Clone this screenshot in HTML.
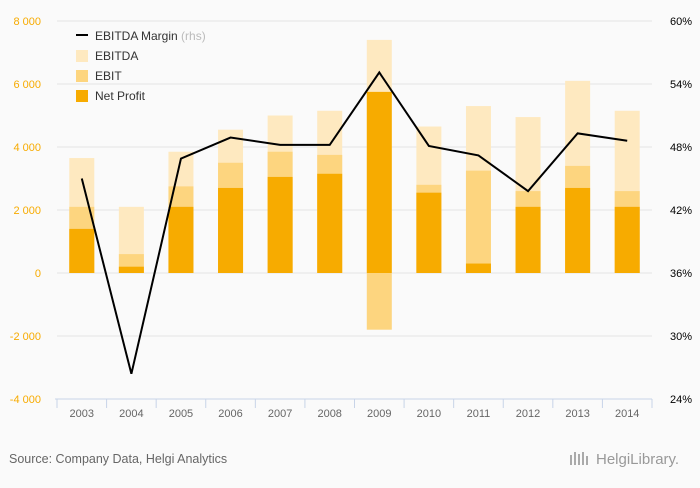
<!DOCTYPE html>
<html><head><meta charset="utf-8"><style>
body{margin:0;background:#fafafa;font-family:"Liberation Sans",sans-serif;}
svg text{font-family:"Liberation Sans",sans-serif;}
</style></head><body>
<svg id="c" width="700" height="483" xmlns="http://www.w3.org/2000/svg">
<rect width="700" height="483" fill="#fafafa"/>
<g id="grid"></g><g id="bars"></g><g id="line"></g><g id="axes"></g>
<g>
<line x1="76" y1="35" x2="88" y2="35" stroke="#000" stroke-width="2"/>
<text x="95" y="40" font-size="12" fill="#333">EBITDA Margin <tspan fill="#bbb">(rhs)</tspan></text>
<rect x="76" y="50" width="12" height="12" fill="#fee9c0"/>
<text x="95" y="60" font-size="12" fill="#333">EBITDA</text>
<rect x="76" y="70" width="12" height="12" fill="#fdd57f"/>
<text x="95" y="80" font-size="12" fill="#333">EBIT</text>
<rect x="76" y="90" width="12" height="12" fill="#f7ab00"/>
<text x="95" y="100" font-size="12" fill="#333">Net Profit</text>
</g>
<text x="9" y="463" font-size="12.5" fill="#666">Source: Company Data, Helgi Analytics</text>
<text x="596" y="464" font-size="15" fill="#999">HelgiLibrary.</text>
<g fill="#aaa"><rect x="570" y="455" width="2" height="10"/><rect x="574" y="452" width="2" height="13"/><rect x="578" y="454" width="2" height="11"/><rect x="582" y="452" width="2" height="13"/><rect x="586" y="456" width="2" height="9"/></g>
</svg>
<script>
const years=["2003","2004","2005","2006","2007","2008","2009","2010","2011","2012","2013","2014"];
const ebitda=[3650,2100,3850,4550,5000,5150,7400,4650,5300,4950,6100,5150];
const ebit=[2100,600,2750,3500,3850,3750,-1800,2800,3250,2600,3400,2600];
const netProfit=[1400,200,2100,2700,3050,3150,5750,2550,300,2100,2700,2100];
const margin=[45.0,26.4,46.9,48.9,48.2,48.2,55.1,48.1,47.2,43.8,49.3,48.6];
const leftTicks=[-4000,-2000,0,2000,4000,6000,8000];
const leftTickLabels=["-4 000","-2 000","0","2 000","4 000","6 000","8 000"];
const rightTicks=[24,30,36,42,48,54,60];
const rightTickLabels=["24%","30%","36%","42%","48%","54%","60%"];
const NS="http://www.w3.org/2000/svg";
const X0=57,X1=652,YT=21,YB=399;
const band=(X1-X0)/years.length;
const xc=i=>X0+band*(i+0.5);
const yL=v=>YB-(v+4000)/12000*(YB-YT);
const yR=v=>YB-(v-24)/36*(YB-YT);
function mk(t,a,p){const e=document.createElementNS(NS,t);for(const k in a)e.setAttribute(k,a[k]);p.appendChild(e);return e;}
const g=document.getElementById('grid'),b=document.getElementById('bars'),l=document.getElementById('line'),ax=document.getElementById('axes');
leftTicks.forEach((v,i)=>{
 if(v!==-4000){const gl=mk('line',{x1:X0,x2:X1,y1:yL(v),y2:yL(v),stroke:'#e4e4e4','stroke-width':1},g);
 
 }
 const t=mk('text',{x:41,y:yL(v)+4,'font-size':11,fill:'#f7ab00','text-anchor':'end'},ax);t.textContent=leftTickLabels[i];
 
 
});
rightTicks.forEach((v,i)=>{
 const t=mk('text',{x:692,y:yR(v)+4,'font-size':11,fill:'#000','text-anchor':'end'},ax);t.textContent=rightTickLabels[i];
 
 
});
const bw=25;
function bar(v,i,fill,name){const y0=yL(0),y1=yL(v);
 const r=mk('rect',{x:xc(i)-bw/2,y:Math.min(y0,y1),width:bw,height:Math.abs(y1-y0),fill:fill},b);
 
 }
years.forEach((y,i)=>{bar(ebitda[i],i,'#fee9c0','bar-ebitda-'+y);bar(ebit[i],i,'#fdd57f','bar-ebit-'+y);bar(netProfit[i],i,'#f7ab00','bar-netprofit-'+y);});
const pl=mk('polyline',{points:margin.map((v,i)=>xc(i)+','+yR(v)).join(' '),fill:'none',stroke:'#000','stroke-width':2},l);


const al=mk('line',{x1:X0-2,x2:X1,y1:YB,y2:YB,stroke:'#c8d4e8','stroke-width':1},ax);


for(let i=0;i<=years.length;i++){const tk=mk('line',{x1:X0+band*i,x2:X0+band*i,y1:YB,y2:YB+9,stroke:'#c8d4e8'},ax);
 
 }
years.forEach((y,i)=>{const t=mk('text',{x:xc(i),y:417,'font-size':11,fill:'#666','text-anchor':'middle'},ax);t.textContent=y;
 
 });
</script>
</body></html>
